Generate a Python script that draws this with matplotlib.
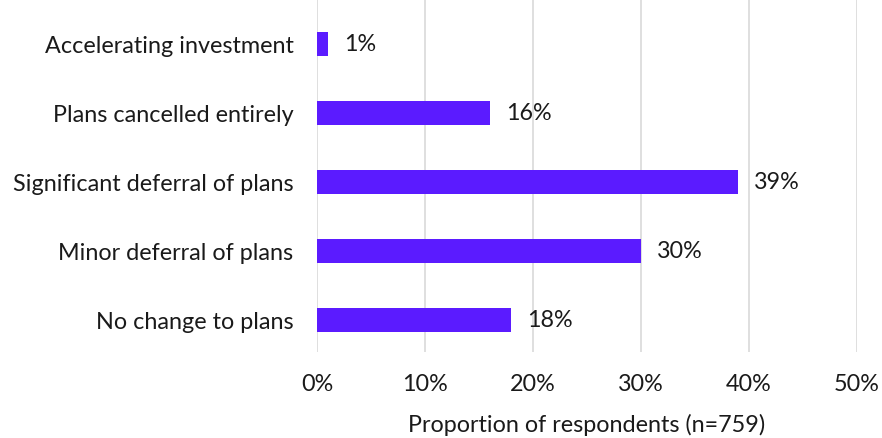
import matplotlib.pyplot as plt
from matplotlib.ticker import FuncFormatter

plt.rcParams['font.family'] = ['Lato', 'DejaVu Sans']

categories = ["Accelerating investment", "Plans cancelled entirely",
              "Significant deferral of plans", "Minor deferral of plans",
              "No change to plans"]
shares = [1, 16, 39, 30, 18]  # percent of respondents

fs = 16.8
fig = plt.figure(figsize=(8.82, 4.38), dpi=100)
ax = fig.add_axes([0.3594, 0.196, 0.6123, 0.804])

ypos = list(range(len(categories)))
ax.barh(ypos, shares, height=0.35, color='#5b1bff', zorder=3)
for y, v in zip(ypos, shares):
    ax.text(v + 1.5, y, f"{v}%", va='center', ha='left', fontsize=fs,
            color='#1a1a1a')

ax.set_yticks(ypos)
ax.set_yticklabels(categories, fontsize=fs, color='#1a1a1a')
ax.set_ylim(len(categories) - 1 + 0.46, -0.64)
ax.set_xlim(0, 50)
ax.set_xticks(range(0, 51, 10))
ax.xaxis.set_major_formatter(FuncFormatter(lambda x, _: f"{x:.0f}%"))
ax.tick_params(axis='x', labelsize=fs, colors='#1a1a1a', length=0, pad=16)
ax.tick_params(axis='y', length=0, pad=17)
ax.grid(axis='x', color='#d9d9d9', linewidth=1.2, zorder=0)
for s in ax.spines.values():
    s.set_visible(False)
ax.set_xlabel("Proportion of respondents (n=759)", fontsize=fs,
              color='#1a1a1a', labelpad=13)

fig.savefig('out.png', dpi=100)
